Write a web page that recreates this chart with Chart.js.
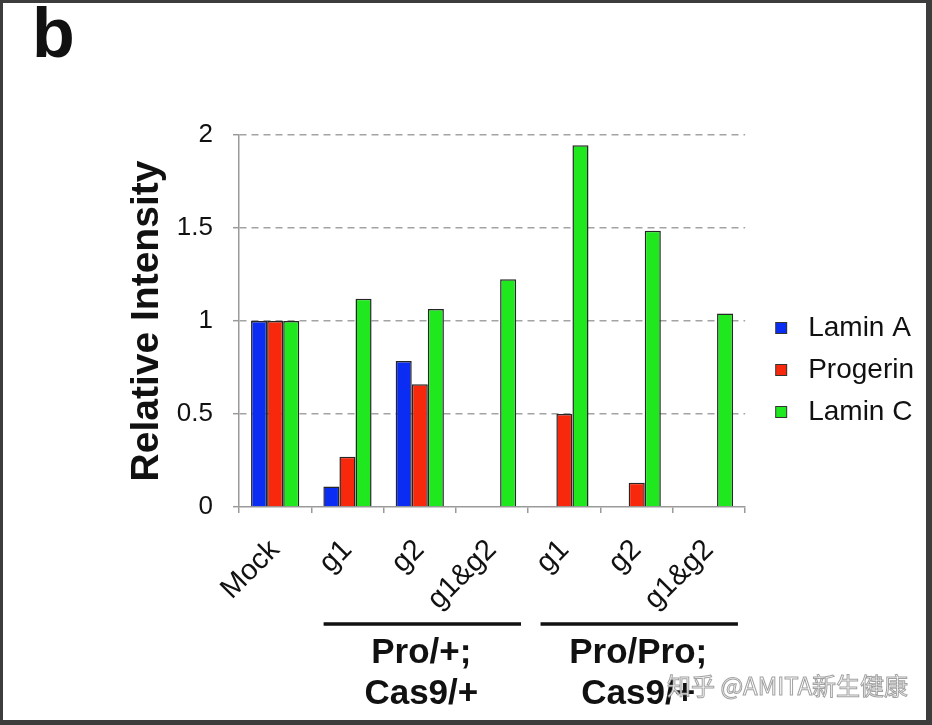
<!DOCTYPE html>
<html>
<head>
<meta charset="utf-8">
<script src="https://cdn.jsdelivr.net/npm/chart.js@4.4.1/dist/chart.umd.min.js"></script>
<style>
  html, body { margin: 0; padding: 0; background: #fff; }
  canvas { display: block; }
</style>
</head>
<body>
<canvas id="c" width="932" height="725"></canvas>
<script>
// ---- data ----
const categories = ['Mock', 'g1', 'g2', 'g1&g2', 'g1', 'g2', 'g1&g2'];
const seriesNames = ['Lamin A', 'Progerin', 'Lamin C'];
const laminA   = [1.0, 0.11, 0.785, null, null, null, null];
const progerin = [1.0, 0.27, 0.66,  null, 0.50, 0.13, null];
const laminC   = [1.0, 1.12, 1.065, 1.225, 1.945, 1.485, 1.04];
const yTicks = [0, 0.5, 1, 1.5, 2];
const groupLabels = [['Pro/+;', 'Cas9/+'], ['Pro/Pro;', 'Cas9/+']];
const groupSpans = [[1, 3], [4, 6]];
const panelLetter = 'b';
const yTitle = 'Relative Intensity';
const watermark = '知乎 @AMITA新生健康';

// ---- styles ----
const FONT = '"Liberation Sans", Arial, Helvetica, sans-serif';
const colors = ['#0b2cf2', '#f8280c', '#1fe81f'];

function swatch(color) {
  const c = document.createElement('canvas');
  c.width = 35; c.height = 14;
  const x = c.getContext('2d');
  x.fillStyle = color;
  x.fillRect(16, 1, 12, 12);
  x.strokeStyle = '#333';
  x.lineWidth = 1;
  x.strokeRect(16.5, 1.5, 11, 11);
  return c;
}

const decor = {
  id: 'decor',
  beforeDraw(chart) {
    const ctx = chart.ctx;
    ctx.save();
    ctx.fillStyle = '#ffffff';
    ctx.fillRect(0, 0, chart.width, chart.height);
    ctx.fillStyle = '#111';
    ctx.font = 'bold 70px ' + FONT;
    ctx.textBaseline = 'alphabetic';
    ctx.textAlign = 'left';
    ctx.fillText(panelLetter, 32, 57);
    ctx.restore();
  },
  afterDraw(chart) {
    const ctx = chart.ctx;
    const xs = chart.scales.x;
    const w = xs.getPixelForValue(1) - xs.getPixelForValue(0);
    ctx.save();
    groupSpans.forEach((span, i) => {
      const x0 = xs.getPixelForValue(span[0]) - 0.33 * w;
      const x1 = xs.getPixelForValue(span[1]) + 0.4 * w;
      ctx.strokeStyle = '#111';
      ctx.lineWidth = 3.5;
      ctx.beginPath();
      ctx.moveTo(x0, 624);
      ctx.lineTo(x1, 624);
      ctx.stroke();
      ctx.fillStyle = '#111';
      ctx.font = 'bold 35px ' + FONT;
      ctx.textAlign = 'center';
      ctx.textBaseline = 'middle';
      const cx = (x0 + x1) / 2;
      groupLabels[i].forEach((t, j) => ctx.fillText(t, cx - 1, 653 + j * 41));
    });
    // watermark
    ctx.font = '24px "Noto Sans CJK SC", ' + FONT;
    ctx.textAlign = 'left';
    ctx.textBaseline = 'middle';
    ctx.lineWidth = 1;
    ctx.strokeStyle = 'rgba(130,130,130,0.75)';
    ctx.fillStyle = 'rgba(255,255,255,0.9)';
    ctx.fillText(watermark, 667, 686);
    ctx.strokeText(watermark, 667, 686);
    // frame
    ctx.fillStyle = '#3d3d3d';
    ctx.fillRect(0, 0, chart.width, 3);
    ctx.fillRect(0, 0, 3, chart.height);
    ctx.fillRect(926, 0, 6, chart.height);
    ctx.fillRect(0, 720, chart.width, 5);
    ctx.restore();
  }
};

const datasets = [laminA, progerin, laminC].map((d, i) => ({
  label: seriesNames[i],
  data: d,
  backgroundColor: colors[i],
  borderColor: '#262626',
  borderWidth: 1.5,
  pointStyle: swatch(colors[i]),
  categoryPercentage: 0.667,
  barPercentage: 1.0
}));

new Chart(document.getElementById('c'), {
  type: 'bar',
  data: { labels: categories, datasets },
  plugins: [decor],
  options: {
    responsive: false,
    animation: false,
    devicePixelRatio: 1,
    layout: { padding: { left: 120, top: 135, right: 8, bottom: 60 } },
    plugins: {
      tooltip: { enabled: false },
      legend: {
        position: 'right',
        fullSize: false,
        title: { display: true, text: '', font: { size: 10 }, padding: { top: 0, bottom: 86 } },
        labels: {
          usePointStyle: true,
          pointStyleWidth: 35,
          boxHeight: 14,
          padding: 14,
          color: '#111',
          font: { family: FONT, size: 28 }
        }
      }
    },
    scales: {
      x: {
        afterFit(s) { s.height = 158; },
        grid: {
          display: true, drawOnChartArea: false, drawTicks: true,
          tickLength: 6, color: '#9a9a9a', lineWidth: 1.5
        },
        border: { display: true, color: '#9a9a9a', width: 1.5 },
        ticks: {
          autoSkip: false, minRotation: 45, maxRotation: 45,
          padding: 20, color: '#111',
          font: { family: FONT, size: 29 }
        }
      },
      y: {
        min: 0, max: 2,
        afterFit(s) { s.width = 119; },
        afterBuildTicks(s) { s.ticks = yTicks.map(v => ({ value: v })); },
        grid: {
          color: (c) => c.tick && c.tick.value === 0 ? 'rgba(0,0,0,0)' : '#a3a3a3',
          lineWidth: 1.4,
          tickLength: 6,
          tickColor: '#9a9a9a',
          tickBorderDash: [],
          tickWidth: 1.5
        },
        border: { display: true, color: '#9a9a9a', width: 1.5, dash: [7, 5] },
        ticks: {
          padding: 20, color: '#111',
          font: { family: FONT, size: 26 },
          callback: (v) => String(v)
        },
        title: {
          display: true, text: yTitle, color: '#111',
          padding: { top: 4, bottom: 0 },
          font: { family: FONT, size: 39, weight: 'bold' }
        }
      }
    }
  }
});
</script>
</body>
</html>
